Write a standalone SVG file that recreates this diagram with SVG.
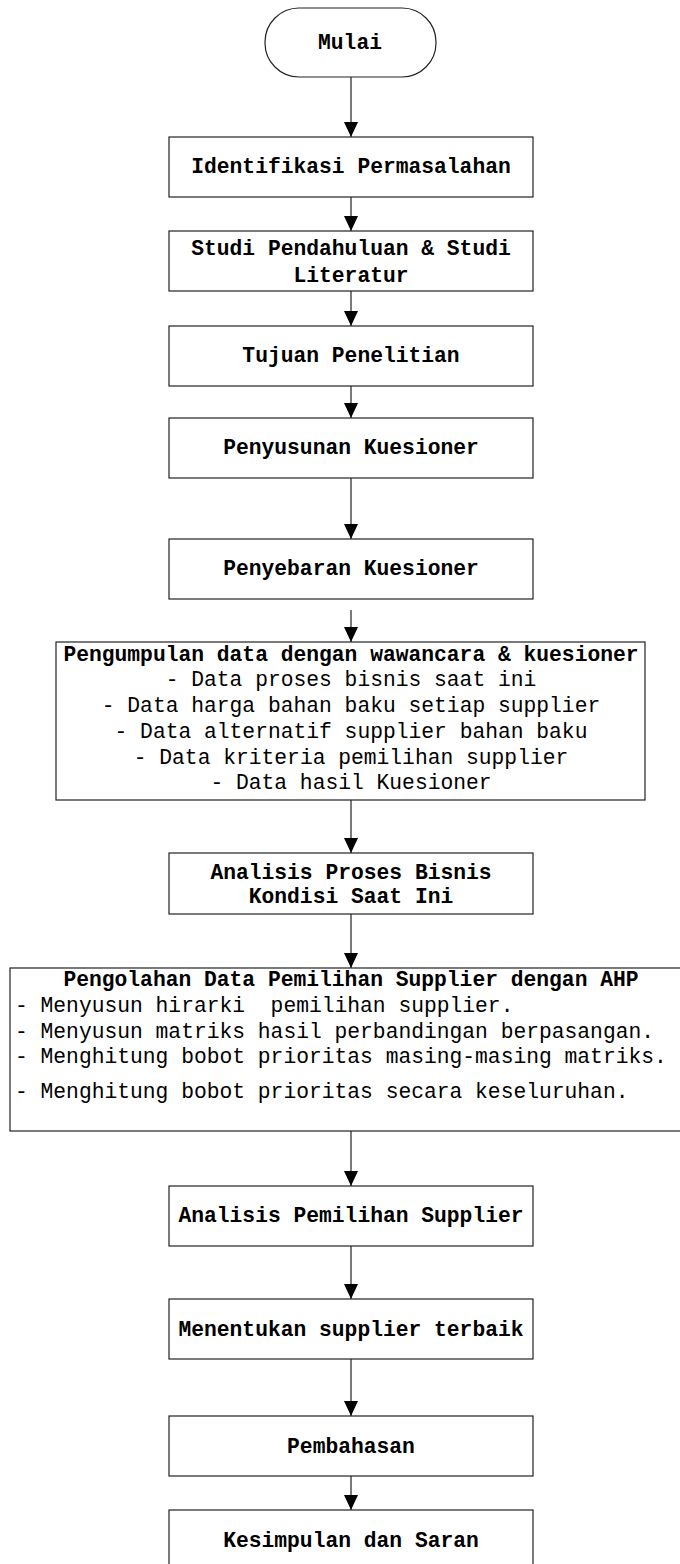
<svg xmlns="http://www.w3.org/2000/svg" width="680" height="1564" viewBox="0 0 680 1564">
<defs>
<style>
.b{fill:#fff;stroke:#222;stroke-width:1.2}
.t{font-family:"Liberation Mono","Courier New",monospace;font-size:21.3px;fill:#000;text-anchor:middle;dominant-baseline:central;white-space:pre}
.h{font-weight:bold}
.l{text-anchor:start}
.c{stroke:#222;stroke-width:1.2;fill:none}
</style>
<marker id="ah" viewBox="0 0 15 14" refX="15" refY="7" markerWidth="15" markerHeight="14" markerUnits="userSpaceOnUse" orient="auto">
<path d="M0,0 L15,7 L0,14 Z" fill="#000"/>
</marker>
</defs>
<rect width="680" height="1564" fill="#fff"/>
<g id="connectors">
<line class="c" x1="351" y1="77" x2="351" y2="137" marker-end="url(#ah)"/>
<line class="c" x1="351" y1="197" x2="351" y2="231" marker-end="url(#ah)"/>
<line class="c" x1="351" y1="291" x2="351" y2="326" marker-end="url(#ah)"/>
<line class="c" x1="351" y1="386" x2="351" y2="418" marker-end="url(#ah)"/>
<line class="c" x1="351" y1="478" x2="351" y2="539" marker-end="url(#ah)"/>
<line class="c" x1="351" y1="610" x2="351" y2="642" marker-end="url(#ah)"/>
<line class="c" x1="351" y1="800" x2="351" y2="853" marker-end="url(#ah)"/>
<line class="c" x1="351" y1="914" x2="351" y2="968" marker-end="url(#ah)"/>
<line class="c" x1="351" y1="1131" x2="351" y2="1186" marker-end="url(#ah)"/>
<line class="c" x1="351" y1="1246" x2="351" y2="1299" marker-end="url(#ah)"/>
<line class="c" x1="351" y1="1359" x2="351" y2="1416" marker-end="url(#ah)"/>
<line class="c" x1="351" y1="1476" x2="351" y2="1510" marker-end="url(#ah)"/>
</g>
<g id="mulai">
<rect class="b" x="265" y="8" width="171" height="69" rx="34" ry="34"/>
<text class="t h" x="350" y="43">Mulai</text>
</g>
<g id="identifikasi">
<rect class="b" x="169" y="137" width="364" height="60"/>
<text class="t h" x="351" y="167">Identifikasi Permasalahan</text>
</g>
<g id="studi">
<rect class="b" x="169" y="231" width="364" height="60"/>
<text class="t h" x="351" y="249">Studi Pendahuluan &amp; Studi</text>
<text class="t h" x="351" y="276">Literatur</text>
</g>
<g id="tujuan">
<rect class="b" x="169" y="326" width="364" height="60"/>
<text class="t h" x="351" y="356">Tujuan Penelitian</text>
</g>
<g id="penyusunan">
<rect class="b" x="169" y="418" width="364" height="60"/>
<text class="t h" x="351" y="448">Penyusunan Kuesioner</text>
</g>
<g id="penyebaran">
<rect class="b" x="169" y="539" width="364" height="60"/>
<text class="t h" x="351" y="569">Penyebaran Kuesioner</text>
</g>
<g id="pengumpulan">
<rect class="b" x="56" y="642" width="589" height="158"/>
<text class="t h" x="351" y="655">Pengumpulan data dengan wawancara &amp; kuesioner</text>
<text class="t" x="351" y="680">- Data proses bisnis saat ini</text>
<text class="t" x="351" y="706">- Data harga bahan baku setiap supplier</text>
<text class="t" x="351" y="732">- Data alternatif supplier bahan baku</text>
<text class="t" x="351" y="758">- Data kriteria pemilihan supplier</text>
<text class="t" x="351" y="783">- Data hasil Kuesioner</text>
</g>
<g id="analisis-proses">
<rect class="b" x="169" y="853" width="364" height="61"/>
<text class="t h" x="351" y="873">Analisis Proses Bisnis</text>
<text class="t h" x="351" y="897">Kondisi Saat Ini</text>
</g>
<g id="pengolahan">
<rect class="b" x="10" y="968" width="690" height="163"/>
<text class="t h" x="351" y="980">Pengolahan Data Pemilihan Supplier dengan AHP</text>
<text class="t l" x="15" y="1006">- Menyusun hirarki  pemilihan supplier.</text>
<text class="t l" x="15" y="1032">- Menyusun matriks hasil perbandingan berpasangan.</text>
<text class="t l" x="15" y="1057">- Menghitung bobot prioritas masing-masing matriks.</text>
<text class="t l" x="15" y="1092">- Menghitung bobot prioritas secara keseluruhan.</text>
</g>
<g id="analisis-pemilihan">
<rect class="b" x="169" y="1186" width="364" height="60"/>
<text class="t h" x="351" y="1216">Analisis Pemilihan Supplier</text>
</g>
<g id="menentukan">
<rect class="b" x="169" y="1299" width="364" height="60"/>
<text class="t h" x="351" y="1330">Menentukan supplier terbaik</text>
</g>
<g id="pembahasan">
<rect class="b" x="169" y="1416" width="364" height="60"/>
<text class="t h" x="351" y="1447">Pembahasan</text>
</g>
<g id="kesimpulan">
<rect class="b" x="169" y="1510" width="364" height="60"/>
<text class="t h" x="351" y="1541">Kesimpulan dan Saran</text>
</g>
</svg>
